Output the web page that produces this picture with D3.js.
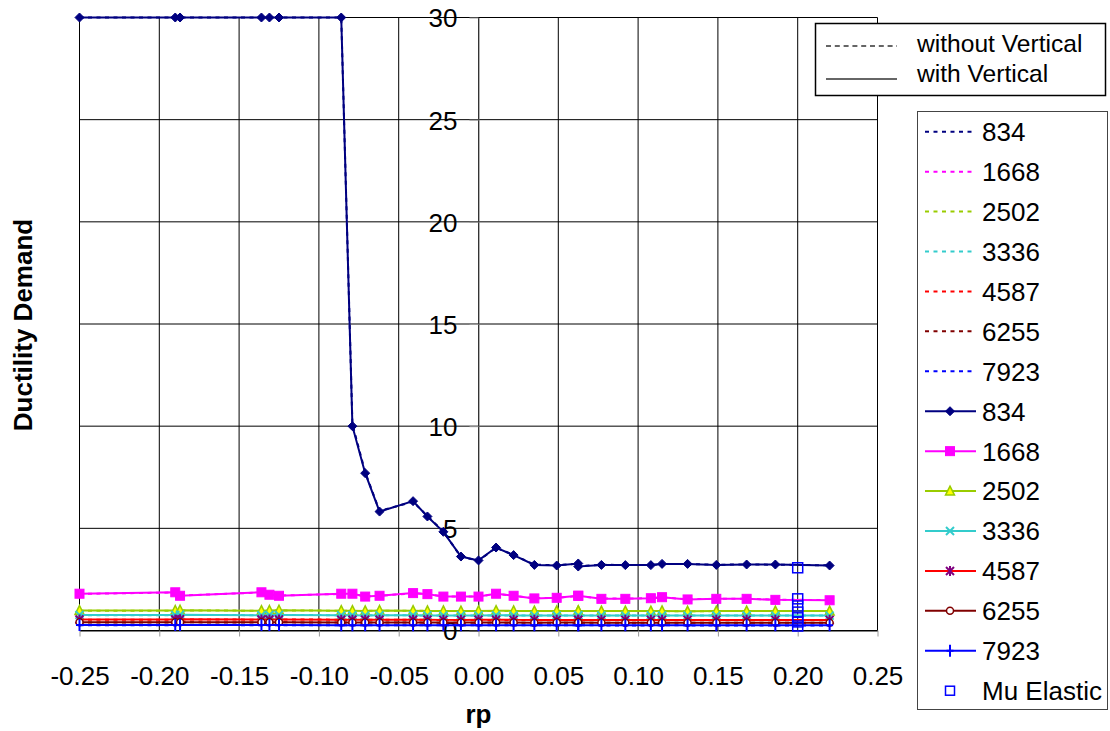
<!DOCTYPE html>
<html>
<head>
<meta charset="utf-8">
<script src="https://cdn.jsdelivr.net/npm/d3@7"></script>
<style>
  html, body { margin: 0; padding: 0; background: #fff; }
  svg { display: block; font-family: "Liberation Sans", Arial, sans-serif; }
</style>
</head>
<body>
<svg id="chart" width="1110" height="731"></svg>
<script>
// ---------------- DATA ----------------
const rp = [-0.25, -0.19, -0.187, -0.136, -0.131, -0.125, -0.086, -0.079, -0.071, -0.062,
            -0.041, -0.032, -0.022, -0.011, 0.0, 0.011, 0.022, 0.035, 0.049, 0.0625,
            0.0625, 0.077, 0.092, 0.108, 0.115, 0.131, 0.149, 0.168, 0.186, 0.22];

const periods = ["834", "1668", "2502", "3336", "4587", "6255", "7923"];

// with vertical (solid lines, markers)
const with834  = [30,30,30,30,30,30,30,10,7.7,5.82,6.33,5.58,4.83,3.62,3.43,4.06,3.69,3.21,3.18,3.28,3.13,3.21,3.2,3.2,3.26,3.26,3.21,3.23,3.23,3.18];
const with1668 = [1.8,1.87,1.7,1.87,1.75,1.7,1.8,1.8,1.66,1.7,1.83,1.78,1.66,1.66,1.66,1.8,1.7,1.57,1.6,1.7,1.7,1.55,1.55,1.58,1.63,1.52,1.55,1.55,1.5,1.48];
const with2502 = [0.98,0.98,0.99,0.97,0.98,0.99,0.97,0.97,0.96,0.98,0.97,0.96,0.96,0.95,0.96,0.97,0.96,0.95,0.96,0.96,0.96,0.95,0.95,0.95,0.96,0.94,0.95,0.95,0.95,0.95];
const with3336 = [0.76,0.76,0.77,0.75,0.76,0.76,0.75,0.75,0.74,0.75,0.75,0.74,0.74,0.74,0.74,0.75,0.74,0.74,0.74,0.74,0.74,0.74,0.73,0.74,0.74,0.73,0.74,0.74,0.73,0.73];
const with4587 = [0.54,0.54,0.55,0.54,0.54,0.54,0.53,0.53,0.53,0.53,0.53,0.53,0.52,0.52,0.53,0.53,0.52,0.52,0.52,0.52,0.52,0.52,0.52,0.52,0.52,0.52,0.52,0.52,0.52,0.52];
const with6255 = [0.40,0.40,0.40,0.40,0.40,0.40,0.39,0.39,0.39,0.39,0.39,0.39,0.39,0.39,0.39,0.39,0.39,0.38,0.39,0.39,0.39,0.38,0.38,0.38,0.38,0.38,0.38,0.38,0.38,0.38];
const with7923 = [0.27,0.27,0.27,0.27,0.27,0.27,0.26,0.26,0.26,0.26,0.26,0.26,0.26,0.26,0.26,0.26,0.26,0.26,0.26,0.26,0.26,0.26,0.26,0.26,0.26,0.26,0.26,0.26,0.26,0.26];

// without vertical (dashed lines, no markers)
const wo834  = [30,30,30,30,30,30,30,10.1,7.75,5.85,6.3,5.6,4.85,3.6,3.42,4.05,3.7,3.22,3.2,3.27,3.15,3.22,3.2,3.21,3.25,3.25,3.22,3.23,3.22,3.19];
const wo1668 = [1.79,1.86,1.71,1.86,1.75,1.71,1.79,1.79,1.67,1.7,1.82,1.78,1.67,1.66,1.67,1.79,1.7,1.58,1.6,1.69,1.69,1.56,1.56,1.58,1.62,1.53,1.55,1.55,1.51,1.49];
const wo2502 = [0.97,0.97,0.98,0.97,0.97,0.98,0.97,0.96,0.96,0.97,0.97,0.96,0.96,0.95,0.96,0.96,0.96,0.95,0.95,0.96,0.96,0.95,0.95,0.95,0.95,0.94,0.95,0.95,0.95,0.95];
const wo3336 = [0.75,0.75,0.76,0.75,0.75,0.76,0.75,0.74,0.74,0.75,0.74,0.74,0.74,0.73,0.74,0.74,0.74,0.73,0.74,0.74,0.74,0.73,0.73,0.73,0.74,0.73,0.73,0.73,0.73,0.73];
const wo4587 = [0.53,0.53,0.54,0.53,0.53,0.54,0.53,0.53,0.52,0.53,0.53,0.52,0.52,0.52,0.52,0.52,0.52,0.52,0.52,0.52,0.52,0.51,0.52,0.52,0.52,0.51,0.52,0.52,0.51,0.51];
const wo6255 = [0.39,0.39,0.40,0.39,0.39,0.40,0.39,0.39,0.39,0.39,0.39,0.38,0.38,0.38,0.38,0.39,0.38,0.38,0.38,0.38,0.38,0.38,0.38,0.38,0.38,0.38,0.38,0.38,0.38,0.38];
const wo7923 = [0.26,0.26,0.27,0.26,0.26,0.26,0.26,0.26,0.26,0.26,0.26,0.26,0.26,0.25,0.26,0.26,0.26,0.25,0.26,0.26,0.26,0.25,0.25,0.25,0.26,0.25,0.25,0.25,0.25,0.25];

// Mu Elastic (one value per period, at rp = 0.20)
const muRp = [0.2, 0.2, 0.2, 0.2, 0.2, 0.2, 0.2];
const muElastic = [3.07, 1.55, 1.2, 0.9, 0.62, 0.42, 0.22];

const xTicks = [-0.25, -0.20, -0.15, -0.10, -0.05, 0.00, 0.05, 0.10, 0.15, 0.20, 0.25];
const xTickLabels = ["-0.25", "-0.20", "-0.15", "-0.10", "-0.05", "0.00", "0.05", "0.10", "0.15", "0.20", "0.25"];
const yTicks = [0, 5, 10, 15, 20, 25, 30];
const yTickLabels = ["0", "5", "10", "15", "20", "25", "30"];

// ---------------- STYLES ----------------
const lineColors   = ["#000080", "#FF00FF", "#99CC00", "#33CCCC", "#FF0000", "#800000", "#0000FF"];
const markerTypes  = ["diamond", "square", "triangle", "x", "star", "circle", "plus"];
const markerStroke = ["#000080", "#FF00FF", "#99CC00", "#33CCCC", "#800080", "#800000", "#0000FF"];
const markerFill   = ["#000080", "#FF00FF", "#FFFF00", "none", "none", "#FFFFFF", "none"];

const withSeries = [with834, with1668, with2502, with3336, with4587, with6255, with7923];
const woSeries   = [wo834, wo1668, wo2502, wo3336, wo4587, wo6255, wo7923];

// ---------------- CHART ----------------
const svg = d3.select("#chart");
const x = d3.scaleLinear().domain([-0.25, 0.25]).range([79.5, 877.5]);
const y = d3.scaleLinear().domain([0, 30]).range([630.5, 17.5]);
const FONT = 26;

// gridlines
const grid = svg.append("g");
grid.selectAll("line.v").data(xTicks).join("line")
  .attr("x1", d => x(d)).attr("x2", d => x(d))
  .attr("y1", y(30)).attr("y2", y(0))
  .attr("stroke", "#000").attr("stroke-width", 1);
grid.selectAll("line.h").data(yTicks).join("line")
  .attr("x1", x(-0.25)).attr("x2", x(0.25))
  .attr("y1", d => y(d)).attr("y2", d => y(d))
  .attr("stroke", "#000").attr("stroke-width", 1);

// y axis at rp = 0
const yAxis = svg.append("g")
  .attr("transform", `translate(${x(0)},0)`)
  .call(d3.axisLeft(y).tickValues(yTicks).tickFormat((d, i) => yTickLabels[i])
        .tickSize(9).tickSizeOuter(0).tickPadding(12));
yAxis.select(".domain").attr("stroke", "#666").attr("stroke-width", 1);
yAxis.selectAll(".tick line").attr("stroke", "#999");
yAxis.selectAll(".tick text").attr("font-size", FONT).attr("fill", "#000")
  .attr("font-family", "Liberation Sans, Arial, sans-serif").attr("dy", "0.36em");

// x axis at y = 0
const xAxis = svg.append("g")
  .attr("transform", `translate(0,${y(0)})`)
  .call(d3.axisBottom(x).tickValues(xTicks).tickFormat((d, i) => xTickLabels[i])
        .tickSize(6).tickSizeOuter(0).tickPadding(30));
xAxis.select(".domain").attr("stroke", "#000").attr("stroke-width", 1);
xAxis.selectAll(".tick line").attr("stroke", "#999");
xAxis.selectAll(".tick text").attr("font-size", FONT).attr("fill", "#000")
  .attr("font-family", "Liberation Sans, Arial, sans-serif").attr("dy", "0.71em");

// axis titles
svg.append("text").attr("x", x(0)).attr("y", 723).attr("text-anchor", "middle")
  .attr("font-size", FONT).attr("font-weight", "bold").text("rp");
svg.append("text").attr("transform", "translate(32,325) rotate(-90)")
  .attr("text-anchor", "middle").attr("font-size", FONT).attr("font-weight", "bold")
  .text("Ductility Demand");

// markers
function drawMarker(g, type, cx, cy, i) {
  const st = markerStroke[i], fi = markerFill[i];
  if (type === "diamond") {
    g.append("path").attr("d", `M${cx},${cy-4.5}L${cx+4.5},${cy}L${cx},${cy+4.5}L${cx-4.5},${cy}Z`)
      .attr("fill", fi).attr("stroke", st).attr("stroke-width", 1);
  } else if (type === "square") {
    g.append("rect").attr("x", cx-4.5).attr("y", cy-4.5).attr("width", 9).attr("height", 9)
      .attr("fill", fi).attr("stroke", st).attr("stroke-width", 1);
  } else if (type === "triangle") {
    g.append("path").attr("d", `M${cx},${cy-5}L${cx+4.5},${cy+4}L${cx-4.5},${cy+4}Z`)
      .attr("fill", fi).attr("stroke", st).attr("stroke-width", 1.5);
  } else if (type === "x") {
    g.append("path").attr("d", `M${cx-4},${cy-4}L${cx+4},${cy+4}M${cx-4},${cy+4}L${cx+4},${cy-4}`)
      .attr("fill", "none").attr("stroke", st).attr("stroke-width", 2);
  } else if (type === "star") {
    g.append("path").attr("d", `M${cx-4},${cy-4}L${cx+4},${cy+4}M${cx-4},${cy+4}L${cx+4},${cy-4}M${cx},${cy-5}L${cx},${cy+5}`)
      .attr("fill", "none").attr("stroke", st).attr("stroke-width", 2);
  } else if (type === "circle") {
    g.append("circle").attr("cx", cx).attr("cy", cy).attr("r", 3.5)
      .attr("fill", fi).attr("stroke", st).attr("stroke-width", 1.5);
  } else if (type === "plus") {
    g.append("path").attr("d", `M${cx},${cy-6}L${cx},${cy+6}M${cx-3.5},${cy}L${cx+3.5},${cy}`)
      .attr("fill", "none").attr("stroke", st).attr("stroke-width", 2);
  }
}

const line = d3.line().x(d => x(d[0])).y(d => y(d[1]));
const plot = svg.append("g");

// dashed: without vertical
woSeries.forEach((vals, i) => {
  const pts = rp.map((r, k) => [r, vals[k]]);
  plot.append("path").attr("d", line(pts)).attr("fill", "none")
    .attr("stroke", lineColors[i]).attr("stroke-width", 2).attr("stroke-dasharray", "4,4.5");
});

// solid: with vertical
withSeries.forEach((vals, i) => {
  const pts = rp.map((r, k) => [r, vals[k]]);
  const g = plot.append("g");
  g.append("path").attr("d", line(pts)).attr("fill", "none")
    .attr("stroke", lineColors[i]).attr("stroke-width", 2);
  pts.forEach(p => drawMarker(g, markerTypes[i], x(p[0]), y(p[1]), i));
});

// Mu Elastic
plot.selectAll("rect.mu").data(muElastic).join("rect")
  .attr("x", (d, i) => x(muRp[i]) - 5).attr("y", d => y(d) - 5)
  .attr("width", 10).attr("height", 10)
  .attr("fill", "none").attr("stroke", "#0000FF").attr("stroke-width", 1.5);

// ---------------- LEGEND 1 ----------------
const lg1 = svg.append("g");
lg1.append("rect").attr("x", 815.5).attr("y", 23.5).attr("width", 290).attr("height", 72)
  .attr("fill", "#fff").attr("stroke", "#000").attr("stroke-width", 1.5);
lg1.append("line").attr("x1", 826).attr("x2", 897).attr("y1", 46).attr("y2", 46)
  .attr("stroke", "#333").attr("stroke-width", 1.3).attr("stroke-dasharray", "5,3.8");
lg1.append("line").attr("x1", 826).attr("x2", 897).attr("y1", 79).attr("y2", 79)
  .attr("stroke", "#333").attr("stroke-width", 1.5);
lg1.append("text").attr("x", 917).attr("y", 52).attr("font-size", 24.6).text("without Vertical");
lg1.append("text").attr("x", 917).attr("y", 82).attr("font-size", 24.6).text("with Vertical");

// ---------------- LEGEND 2 ----------------
const lg2 = svg.append("g");
lg2.append("rect").attr("x", 917.5).attr("y", 111.5).attr("width", 190).attr("height", 598)
  .attr("fill", "#fff").attr("stroke", "#444").attr("stroke-width", 1);
const rowY = i => 131.7 + i * 39.93;
periods.forEach((p, i) => {
  lg2.append("line").attr("x1", 925).attr("x2", 972).attr("y1", rowY(i)).attr("y2", rowY(i))
    .attr("stroke", lineColors[i]).attr("stroke-width", 2).attr("stroke-dasharray", "4,4.5");
  lg2.append("text").attr("x", 982).attr("y", rowY(i)).attr("dy", "0.36em")
    .attr("font-size", FONT).text(p);
});
periods.forEach((p, j) => {
  const i = j + 7;
  const g = lg2.append("g");
  g.append("line").attr("x1", 925).attr("x2", 976).attr("y1", rowY(i)).attr("y2", rowY(i))
    .attr("stroke", lineColors[j]).attr("stroke-width", 2);
  drawMarker(g, markerTypes[j], 950, rowY(i), j);
  lg2.append("text").attr("x", 982).attr("y", rowY(i)).attr("dy", "0.36em")
    .attr("font-size", FONT).text(p);
});
lg2.append("rect").attr("x", 945.5).attr("y", rowY(14) - 4.5).attr("width", 9).attr("height", 9)
  .attr("fill", "none").attr("stroke", "#0000FF").attr("stroke-width", 1.5);
lg2.append("text").attr("x", 982).attr("y", rowY(14)).attr("dy", "0.36em")
  .attr("font-size", FONT).text("Mu Elastic");
</script>
</body>
</html>
